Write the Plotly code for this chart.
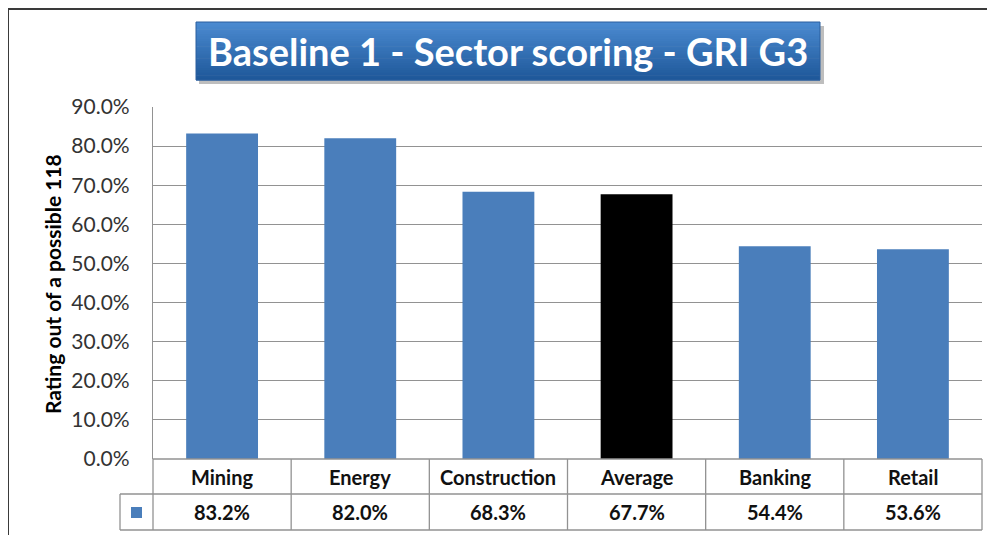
import plotly.graph_objects as go

# Datos del grafico #

sectores = ["Mining", "Energy", "Construction", "Average", "Banking", "Retail"]
puntaje = [0.832, 0.820, 0.683, 0.677, 0.544, 0.536]
colores = ["#4a7ebb", "#4a7ebb", "#4a7ebb", "#000000", "#4a7ebb", "#4a7ebb"]
y_ticks = [0, 0.1, 0.2, 0.3, 0.4, 0.5, 0.6, 0.7, 0.8, 0.9]

titulo = "Baseline 1 - Sector scoring - GRI G3"
titulo_y = "Rating out of a possible 118"

FUENTE = "Lato, 'Open Sans', sans-serif"
GRIS = "#929292"

# la pagina deja 8px de margen (body), se compensa aqui
OFF = 8
W, H = 995 - OFF, 535 - OFF
# area del grafico en pixeles de la pagina
X0, X1, Y0, Y1 = 153, 982, 107, 459
L, R = X0 - OFF, W - (X1 - OFF)
T, B = Y0 - OFF, H - (Y1 - OFF)


def px_(p):
    # pixel horizontal de la pagina -> paper
    return (p - X0) / (X1 - X0)


def py(p):
    # pixel vertical de la pagina -> paper
    return (Y1 - p) / (Y1 - Y0)


fig = go.Figure()

fig.add_trace(go.Bar(
    x=list(range(len(sectores))),
    y=puntaje,
    marker=dict(color=colores, line=dict(width=0)),
    hoverinfo="skip",
    showlegend=False,
))

shapes = []

# marco exterior
borde = dict(color="#3a3a3a", width=2)
shapes.append(dict(type="line", xref="paper", yref="paper",
                   x0=px_(8), x1=px_(1000), y0=py(9), y1=py(9), line=borde))
shapes.append(dict(type="line", xref="paper", yref="paper",
                   x0=px_(8), x1=px_(8), y0=py(9), y1=py(540), line=borde))

# caja del titulo (sombra + degradado)
bx0, bx1, by0, by1 = 196, 820, 22, 80
shapes.append(dict(type="rect", xref="paper", yref="paper",
                   x0=px_(bx0 + 3), x1=px_(bx1 + 4), y0=py(by0 + 4), y1=py(by1 + 4),
                   fillcolor="rgba(110,110,110,0.45)", line=dict(width=0), layer="below"))
c_arriba, c_abajo = (75, 138, 208), (30, 88, 154)
n_fajas = 24
paso = (by1 - by0) / n_fajas
for i in range(n_fajas):
    t = i / (n_fajas - 1)
    c = tuple(round(a + (b - a) * t) for a, b in zip(c_arriba, c_abajo))
    shapes.append(dict(type="rect", xref="paper", yref="paper",
                       x0=px_(bx0), x1=px_(bx1),
                       y0=py(by0 + i * paso), y1=py(by0 + (i + 1) * paso + 0.6),
                       fillcolor="rgb(%d,%d,%d)" % c, line=dict(width=0), layer="below"))
shapes.append(dict(type="rect", xref="paper", yref="paper",
                   x0=px_(bx0), x1=px_(bx1), y0=py(by0), y1=py(by1),
                   line=dict(color="#2a5f9e", width=1)))

# tabla de datos bajo el eje
n = len(sectores)
ancho_col = (X1 - X0) / n
fila1, fila2, fin = 459, 494, 530
ley = 120
tabla = dict(color=GRIS, width=1.3)
shapes.append(dict(type="line", xref="paper", yref="paper", x0=px_(X0), x1=px_(X1),
                   y0=py(fila1), y1=py(fila1), line=tabla))
shapes.append(dict(type="line", xref="paper", yref="paper", x0=px_(ley), x1=px_(X1),
                   y0=py(fila2), y1=py(fila2), line=tabla))
shapes.append(dict(type="line", xref="paper", yref="paper", x0=px_(ley), x1=px_(X1),
                   y0=py(fin), y1=py(fin), line=tabla))
shapes.append(dict(type="line", xref="paper", yref="paper", x0=px_(ley), x1=px_(ley),
                   y0=py(fila2), y1=py(fin), line=tabla))
for k in range(n + 1):
    xk = px_(X0 + k * ancho_col)
    shapes.append(dict(type="line", xref="paper", yref="paper", x0=xk, x1=xk,
                       y0=py(fila1), y1=py(fin), line=tabla))

# cuadrito de la leyenda
shapes.append(dict(type="rect", xref="paper", yref="paper",
                   x0=px_(131), x1=px_(142), y0=py(507), y1=py(518),
                   fillcolor="#4a7ebb", line=dict(width=0)))

anotaciones = []
anotaciones.append(dict(text=titulo, xref="paper", yref="paper",
                        x=px_((bx0 + bx1) / 2), y=py((by0 + by1) / 2),
                        xanchor="center", yanchor="middle", showarrow=False,
                        font=dict(family=FUENTE, size=38, color="white", weight="bold")))
anotaciones.append(dict(text=titulo_y, xref="paper", yref="paper",
                        x=px_(52), y=py(284), xanchor="center", yanchor="middle",
                        textangle=-90, showarrow=False,
                        font=dict(family=FUENTE, size=21, color="#000000", weight="bold")))
for i, (s, v) in enumerate(zip(sectores, puntaje)):
    xc = px_(X0 + (i + 0.5) * ancho_col)
    anotaciones.append(dict(text=s, xref="paper", yref="paper", x=xc,
                            y=py((fila1 + fila2) / 2), xanchor="center", yanchor="middle",
                            showarrow=False,
                            font=dict(family=FUENTE, size=20, color="#111111", weight="bold")))
    anotaciones.append(dict(text=f"{v * 100:.1f}%", xref="paper", yref="paper", x=xc,
                            y=py((fila2 + fin) / 2), xanchor="center", yanchor="middle",
                            showarrow=False,
                            font=dict(family=FUENTE, size=20, color="#111111", weight="bold")))

fig.update_layout(
    width=W, height=H,
    margin=dict(l=L, r=R, t=T, b=B, autoexpand=False),
    paper_bgcolor="white",
    plot_bgcolor="white",
    bargap=0.48,
    shapes=shapes,
    annotations=anotaciones,
    xaxis=dict(range=[-0.5, n - 0.5], showticklabels=False, showgrid=False,
               zeroline=False, showline=False, fixedrange=True),
    yaxis=dict(range=[0, 0.9], tickvals=y_ticks, tickformat=".1%",
               showgrid=True, gridcolor=GRIS, gridwidth=1.3,
               showline=True, linecolor=GRIS, linewidth=1.3,
               zeroline=False, ticks="", ticklabelstandoff=18,
               tickfont=dict(family=FUENTE, size=21, color="#333333")),
)

fig.write_html("out.html")
